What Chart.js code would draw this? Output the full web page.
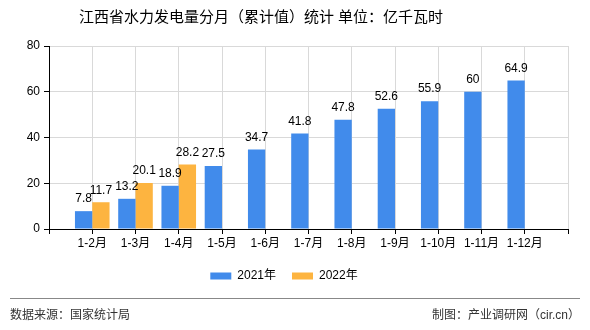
<!DOCTYPE html>
<html lang="zh-CN">
<head>
<meta charset="UTF-8">
<title>江西省水力发电量分月（累计值）统计</title>
<script src="https://cdn.jsdelivr.net/npm/chart.js"></script>
<style>
  html, body { margin: 0; padding: 0; background: #fff; }
  #wrap { width: 590px; height: 330px; position: relative; }
</style>
</head>
<body>
<div id="wrap"><canvas id="myChart"></canvas></div>
<script>
// 累计月份
const months = ['1-2月', '1-3月', '1-4月', '1-5月', '1-6月', '1-7月', '1-8月', '1-9月', '1-10月', '1-11月', '1-12月'];
// 各年累计发电量（亿千瓦时）
const values2021 = [7.8, 13.2, 18.9, 27.5, 34.7, 41.8, 47.8, 52.6, 55.9, 60, 64.9];
const values2022 = [11.7, 20.1, 28.2];
const seriesNames = ['2021年', '2022年'];
const yMin = 0, yMax = 80, yStep = 20;

const FONT = '"Liberation Sans", "Noto Sans CJK SC", sans-serif';

// 两端各留一个空位，刻度线落在每个月份的中心
const labels = ['', ...months, ''];
const pad = arr => {
  const out = [null, ...arr];
  while (out.length < labels.length) out.push(null);
  return out;
};

// 柱顶数值
const valueLabels = {
  id: 'valueLabels',
  afterDatasetsDraw(chart) {
    const ctx = chart.ctx;
    ctx.save();
    ctx.font = '12px ' + FONT;
    ctx.fillStyle = '#000';
    ctx.textAlign = 'center';
    ctx.textBaseline = 'middle';
    chart.data.datasets.forEach((ds, i) => {
      chart.getDatasetMeta(i).data.forEach((bar, j) => {
        const v = ds.data[j];
        if (v === null || v === undefined) return;
        ctx.fillText(String(v), bar.x, bar.y - 12);
      });
    });
    ctx.restore();
  }
};

// 标题、底部分隔线和来源说明
const frameText = {
  id: 'frameText',
  afterDraw(chart) {
    const ctx = chart.ctx;
    const w = chart.width;
    ctx.save();
    ctx.fillStyle = '#000';
    ctx.font = '15px ' + FONT;
    ctx.textAlign = 'center';
    ctx.textBaseline = 'middle';
    ctx.fillText('江西省水力发电量分月（累计值）统计 单位：亿千瓦时', 261, 18);

    ctx.strokeStyle = '#888';
    ctx.lineWidth = 1;
    ctx.beginPath();
    ctx.moveTo(10, 298.5);
    ctx.lineTo(w - 10, 298.5);
    ctx.stroke();
    ctx.font = '12px ' + FONT;
    ctx.fillStyle = '#333';
    ctx.textAlign = 'left';
    ctx.fillText('数据来源：国家统计局', 10, 316);
    ctx.textAlign = 'right';
    ctx.fillText('制图：产业调研网（cir.cn）', w - 10, 316);
    ctx.restore();
  }
};

const ctx = document.getElementById('myChart').getContext('2d');
const myChart = new Chart(ctx, {
  type: 'bar',
  data: {
    labels: labels,
    datasets: [
      {
        label: seriesNames[0],
        data: pad(values2021),
        backgroundColor: '#418BEB'
      },
      {
        label: seriesNames[1],
        data: pad(values2022),
        backgroundColor: '#FDB440'
      }
    ]
  },
  options: {
    responsive: true,
    maintainAspectRatio: false,
    animation: false,
    categoryPercentage: 0.8,
    barPercentage: 1.0,
    layout: { padding: { left: 0, right: 22, top: 46, bottom: 38 } },
    plugins: {
      title: { display: false },
      legend: {
        position: 'bottom',
        labels: {
          boxWidth: 21,
          boxHeight: 7,
          padding: 16,
          color: '#000',
          font: { family: FONT, size: 12 }
        }
      },
      tooltip: { enabled: false }
    },
    scales: {
      x: {
        offset: false,
        grid: { offset: false, color: '#d9d9d9', tickColor: '#000', tickLength: 5 },
        border: { color: '#000' },
        ticks: { color: '#000', font: { family: FONT, size: 12 }, autoSkip: false, maxRotation: 0, padding: 2 },
        afterFit(scale) { scale.height = 25; }
      },
      y: {
        min: yMin,
        max: yMax,
        grid: { color: '#d9d9d9', tickColor: '#000', tickLength: 5 },
        border: { color: '#000' },
        ticks: { stepSize: yStep, color: '#000', font: { family: FONT, size: 12 }, padding: 4 },
        afterFit(scale) { scale.width = 49; }
      }
    }
  },
  plugins: [valueLabels, frameText]
});
</script>
</body>
</html>
